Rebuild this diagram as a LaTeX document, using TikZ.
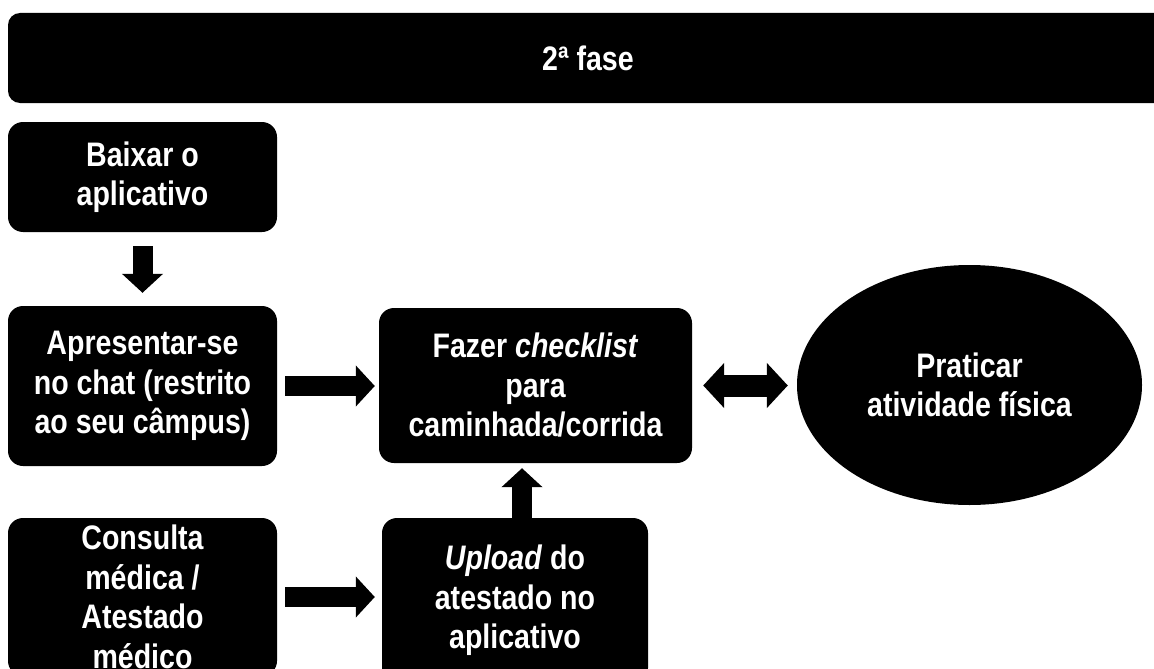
\documentclass[tikz,border=0pt]{standalone}
\usepackage{fontspec}
\setmainfont{Liberation Sans}[FakeStretch=0.84]
\usetikzlibrary{arrows.meta,shapes.geometric}
\begin{document}
\begin{tikzpicture}[x=1pt,y=-1pt,
  box/.style={fill=black, rounded corners=15pt, text=white, align=center,
    inner sep=0pt, font=\bfseries\fontsize{34}{39.5}\selectfont},
  oval/.style={fill=black, ellipse, text=white, align=center,
    inner sep=0pt, font=\bfseries\fontsize{34}{39.5}\selectfont},
  blk/.style={line width=20pt, -{Triangle[length=19pt,width=40pt]}},
  blkdbl/.style={line width=22pt, {Triangle[length=21pt,width=44pt]}-{Triangle[length=21pt,width=44pt]}}
]
\useasboundingbox (0,0) rectangle (1154,669);
\clip (0,0) rectangle (1154,669);

\node[box, rounded corners=12pt, minimum width=1160pt, minimum height=90pt] (fase) at (588,58) {2ª fase};

\node[box, minimum width=269pt, minimum height=110pt] (baixar) at (142.5,177) {Baixar o\\aplicativo};
\node[box, minimum width=269pt, minimum height=160pt] (apres) at (142.5,386) {Apresentar-se\\no chat (restrito\\ao seu câmpus)};
\node[box, minimum width=313pt, minimum height=155pt] (fazer) at (535.5,385.5) {Fazer \textit{checklist}\\para\\caminhada/corrida};
\node[oval, minimum width=345pt, minimum height=240pt] (prat) at (969.5,385) {Praticar\\atividade física};
\node[box, minimum width=269pt, minimum height=158pt] (consulta) at (142.5,597) {Consulta\\médica /\\Atestado\\médico};
\node[box, minimum width=266pt, minimum height=165pt] (upload) at (515,600.5) {\textit{Upload} do\\atestado no\\aplicativo};

\draw[blk] ([yshift=-14pt]baixar.south) -- ([yshift=13pt]apres.north);
\draw[blk] ([xshift=8pt]apres.east) -- ([xshift=-4pt]apres.east -| fazer.west);
\draw[blk] ([xshift=8pt]consulta.east) -- ([xshift=-7pt]consulta.east -| upload.west);
\coordinate (upc) at ([xshift=7pt]upload.north);
\coordinate (upt) at (upc |- fazer.south);
\draw[blk] (upc) -- ([yshift=-5pt]upt);
\draw[blkdbl] ([xshift=11pt]fazer.east) -- ([xshift=-9pt]fazer.east -| prat.west);
\end{tikzpicture}
\end{document}
